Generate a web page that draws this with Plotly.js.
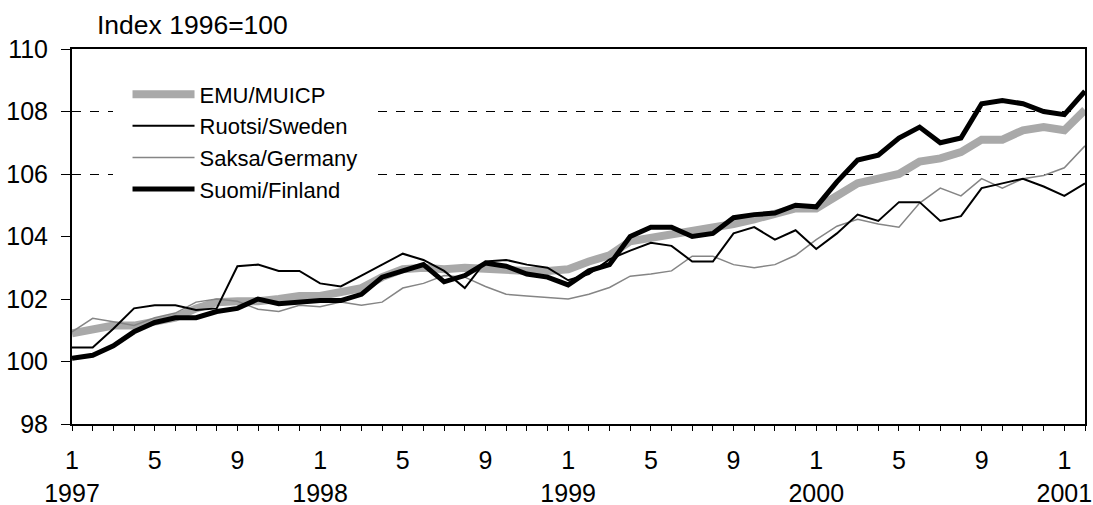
<!DOCTYPE html>
<html>
<head>
<meta charset="utf-8">
<script src="https://cdn.plot.ly/plotly-3.0.1.min.js"></script>
<style>
  html, body { margin: 0; padding: 0; background: #fff; }
  #chart { width: 1093px; height: 505px; }
</style>
</head>
<body>
<div id="chart"></div>
<script>
// Months, January 1997 to February 2001
const months = [
  '1997-01','1997-02','1997-03','1997-04','1997-05','1997-06','1997-07','1997-08','1997-09','1997-10','1997-11','1997-12',
  '1998-01','1998-02','1998-03','1998-04','1998-05','1998-06','1998-07','1998-08','1998-09','1998-10','1998-11','1998-12',
  '1999-01','1999-02','1999-03','1999-04','1999-05','1999-06','1999-07','1999-08','1999-09','1999-10','1999-11','1999-12',
  '2000-01','2000-02','2000-03','2000-04','2000-05','2000-06','2000-07','2000-08','2000-09','2000-10','2000-11','2000-12',
  '2001-01','2001-02'
];

const emu = [
  100.9, 101.05, 101.15, 101.15, 101.25, 101.4, 101.7, 101.9, 101.93, 101.93, 102.0, 102.1,
  102.1, 102.2, 102.35, 102.7, 102.95, 103.0, 102.95, 103.0, 102.95, 102.9, 102.9, 102.9,
  102.95, 103.2, 103.4, 103.85, 103.95, 104.05, 104.15, 104.27, 104.4, 104.55, 104.7, 104.9,
  104.9, 105.3, 105.7, 105.85, 106.0, 106.4, 106.5, 106.7, 107.1, 107.1, 107.4, 107.5,
  107.4, 108.05
];

const sweden = [
  100.45, 100.45, 101.05, 101.7, 101.8, 101.8, 101.65, 101.7, 103.05, 103.1, 102.9, 102.9,
  102.5, 102.4, 102.75, 103.1, 103.45, 103.25, 102.9, 102.35, 103.2, 103.25, 103.1, 103.0,
  102.6, 102.8, 103.27, 103.55, 103.8, 103.7, 103.2, 103.2, 104.1, 104.3, 103.9, 104.2,
  103.6, 104.1, 104.7, 104.5, 105.1, 105.1, 104.5, 104.65, 105.55, 105.7, 105.85, 105.6,
  105.3, 105.7
];

const germany = [
  100.95, 101.38, 101.27, 101.15, 101.4, 101.55, 101.9, 102.0, 101.93, 101.67, 101.6, 101.8,
  101.75, 101.9, 101.8, 101.9, 102.35, 102.5, 102.75, 102.7, 102.4, 102.15, 102.1, 102.05,
  102.0, 102.15, 102.37, 102.73, 102.8, 102.9, 103.37, 103.37, 103.1, 103.0, 103.1, 103.4,
  103.9, 104.33, 104.55, 104.4, 104.3, 105.07, 105.55, 105.3, 105.85, 105.55, 105.85, 105.95,
  106.2, 106.9
];

const finland = [
  100.1, 100.2, 100.5, 100.95, 101.25, 101.4, 101.4, 101.6, 101.7, 102.0, 101.85, 101.9,
  101.95, 101.95, 102.15, 102.7, 102.9, 103.1, 102.55, 102.75, 103.15, 103.05, 102.8, 102.7,
  102.45, 102.9, 103.1, 104.0, 104.3, 104.3, 104.0, 104.1, 104.6, 104.7, 104.75, 105.0,
  104.95, 105.75, 106.45, 106.6, 107.15, 107.5, 107.0, 107.15, 108.25, 108.35, 108.25, 108.0,
  107.9, 108.65
];

const seriesNames = ['EMU/MUICP', 'Ruotsi/Sweden', 'Saksa/Germany', 'Suomi/Finland'];
const labelledMonths = ['01', '05', '09'];
const yTicks = [98, 100, 102, 104, 106, 108, 110];
const dashedLevels = [106, 108];

// tick labels: month number at 1, 5, 9; year below January
const tickText = months.map(m => {
  const [yr, mo] = m.split('-');
  if (!labelledMonths.includes(mo)) return '';
  const n = String(parseInt(mo, 10));
  return mo === '01' ? n + '<br>' + yr : n;
});

const traces = [
  { x: months, y: emu, name: seriesNames[0], type: 'scatter', mode: 'lines',
    line: { color: '#a9a9a9', width: 8 }, legendrank: 1 },
  { x: months, y: germany, name: seriesNames[2], type: 'scatter', mode: 'lines',
    line: { color: '#858585', width: 1.5 }, legendrank: 3 },
  { x: months, y: sweden, name: seriesNames[1], type: 'scatter', mode: 'lines',
    line: { color: '#000000', width: 2 }, legendrank: 2 },
  { x: months, y: finland, name: seriesNames[3], type: 'scatter', mode: 'lines',
    line: { color: '#000000', width: 5 }, legendrank: 4 }
];
// helper trace carrying the dashed reference grid on a second y axis
traces.push({ x: [months[0]], y: [null], yaxis: 'y2', showlegend: false, hoverinfo: 'skip',
  type: 'scatter', mode: 'lines' });

const font = 'Arial, "Liberation Sans", Helvetica, sans-serif';

const layout = {
  width: 1093, height: 505,
  margin: { l: 72, r: 8, t: 49, b: 81 },
  paper_bgcolor: '#ffffff', plot_bgcolor: '#ffffff',
  font: { family: font, color: '#000', size: 25 },
  showlegend: true,
  legend: {
    x: 0.04, y: 0.975, xanchor: 'left', yanchor: 'top',
    bgcolor: '#ffffff', bordercolor: '#ffffff', borderwidth: 15,
    font: { family: font, size: 22, color: '#000' },
    itemwidth: 62, traceorder: 'normal',
    tracegroupgap: 0
  },
  annotations: [{
    text: 'Index 1996=100', xref: 'paper', yref: 'paper',
    x: 0.023, y: 1, xanchor: 'left', yanchor: 'bottom', yshift: 7,
    showarrow: false, font: { family: font, size: 26.5, color: '#000' }
  }],
  xaxis: {
    type: 'category', range: [0, months.length - 1],
    tickmode: 'array', tickvals: months, ticktext: tickText,
    ticks: 'outside', ticklen: 5, tickwidth: 1, tickcolor: '#000',
    showline: true, linecolor: '#000', linewidth: 2, mirror: true,
    showgrid: false, zeroline: false,
    tickfont: { family: font, size: 25, color: '#000' },
    ticklabelstandoff: 8
  },
  yaxis: {
    range: [98, 110], tickmode: 'array', tickvals: yTicks,
    ticks: 'outside', ticklen: 9, tickwidth: 1, tickcolor: '#000',
    showline: true, linecolor: '#000', linewidth: 2, mirror: true,
    showgrid: false, zeroline: false,
    tickfont: { family: font, size: 25, color: '#000' },
    ticklabelstandoff: 8
  },
  yaxis2: {
    overlaying: 'y', range: [98, 110], tickmode: 'array', tickvals: dashedLevels,
    showticklabels: false, ticks: '', showline: false, zeroline: false,
    showgrid: true, gridcolor: '#000', gridwidth: 1, griddash: 'dash'
  }
};

Plotly.newPlot('chart', traces, layout, { displayModeBar: false, staticPlot: true });
</script>
</body>
</html>
